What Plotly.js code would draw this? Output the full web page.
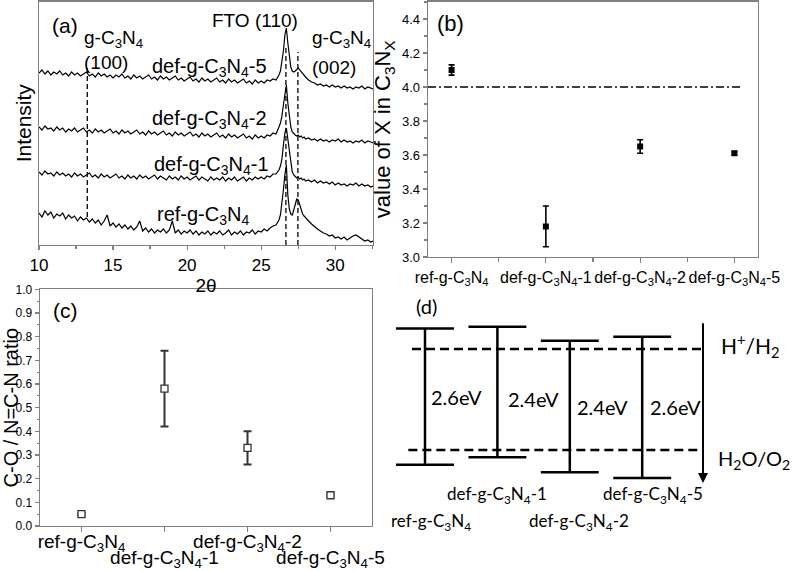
<!DOCTYPE html>
<html><head><meta charset="utf-8">
<script src="https://cdn.plot.ly/plotly-3.0.1.min.js"></script>
<style>html,body{margin:0;padding:0;background:#fff;} #chart{width:794px;height:571px;}</style>
</head><body><div id="chart"></div>
<script>
// ---------- DATA ----------
const samples = ['ref-g-C<sub>3</sub>N<sub>4</sub>', 'def-g-C<sub>3</sub>N<sub>4</sub>-1', 'def-g-C<sub>3</sub>N<sub>4</sub>-2', 'def-g-C<sub>3</sub>N<sub>4</sub>-5'];
const samplePos = [1, 2, 3, 4];

// (a) XRD patterns (intensity, arbitrary offset units)
const twoTheta = [
10.0,10.2,10.4,10.6,10.8,11.0,11.2,11.4,11.6,11.8,
12.0,12.2,12.4,12.6,12.8,13.0,13.2,13.4,13.6,13.8,
14.0,14.2,14.4,14.6,14.8,15.0,15.2,15.4,15.6,15.8,
16.0,16.2,16.4,16.6,16.8,17.0,17.2,17.4,17.6,17.8,
18.0,18.2,18.4,18.6,18.8,19.0,19.2,19.4,19.6,19.8,
20.0,20.2,20.4,20.6,20.8,21.0,21.2,21.4,21.6,21.8,
22.0,22.2,22.4,22.6,22.8,23.0,23.2,23.4,23.6,23.8,
24.0,24.2,24.4,24.6,24.8,25.0,25.2,25.4,25.6,25.8,
26.0,26.1,26.2,26.3,26.4,26.5,26.6,26.7,26.8,26.9,27.0,27.1,27.2,27.3,27.4,27.5,27.6,27.7,27.8,27.9,28.0,
28.2,28.4,28.6,28.8,29.0,29.2,29.4,29.6,29.8,30.0,30.2,30.4,30.6,30.8,31.0,31.2,31.4,31.6,31.8,32.0,32.2,32.4,32.55];
const xrdRef = [
32,28,34,30,33,27,31,29,32,26,
30,27,29,24,28,25,27,23,26,22,
25,20,24,30,19,22,18,21,17,20,
16,19,15,18,24,14,17,13,16,12,
15,13,16,12,15,24,12,15,11,14,
12,15,11,14,10,13,11,14,10,13,
11,14,10,12,15,10,13,11,14,10,
13,12,15,11,14,13,16,14,17,19,
20,22,25,30,40,55,70,80,50,36,31,30,35,41,46,45,40,35,31,29,27,
24,21,18,16,14,12,11,9,10,7,8,6,8,5,7,9,10,8,6,4,5,3,4];
const xrdDef1 = [
73,70,74,71,72,69,73,70,72,69,
71,68,72,69,71,68,70,72,68,70,
67,71,68,70,67,69,71,67,69,66,
70,67,69,66,70,67,69,66,68,70,
66,69,67,65,69,66,68,65,69,66,
68,65,67,69,65,68,66,64,68,65,
67,65,68,64,67,65,68,64,66,68,
64,67,65,68,66,68,66,69,68,71,
71,73,75,79,86,100,112,117,106,92,80,73,70,68,67,68,66,67,65,66,64,
65,63,65,62,64,62,63,61,63,60,62,60,61,59,61,60,62,59,61,59,60,58,59];
const xrdDef2 = [
118,115,119,116,117,114,118,115,117,113,
116,114,117,113,115,117,113,115,112,116,
113,115,112,114,116,112,114,111,115,112,
114,111,113,115,111,113,110,114,111,113,
110,112,114,110,112,109,113,110,112,109,
111,113,109,111,108,112,109,111,108,110,
112,108,110,107,111,108,110,107,109,111,
107,109,106,110,107,109,107,110,109,112,
111,114,118,122,129,140,153,160,142,127,118,113,111,110,109,110,108,109,107,108,106,
107,105,106,104,106,104,105,103,105,104,106,103,105,103,104,102,104,103,105,102,104,103,102];
const xrdDef5 = [
172,175,171,174,170,173,171,174,170,172,
169,173,170,172,169,171,173,169,171,168,
172,169,171,168,170,167,170,168,171,167,
169,166,170,167,169,166,168,170,166,168,
165,169,166,168,165,167,169,165,167,164,
166,168,164,166,163,167,164,166,163,165,
167,163,165,162,166,163,165,162,164,166,
162,164,161,165,162,164,162,165,164,166,
165,167,170,174,183,194,210,217,202,188,178,174,173,174,176,177,175,173,171,170,168,
165,163,162,160,161,159,160,158,160,158,159,157,159,157,158,156,158,157,159,156,158,157,156];
const peakPos = [13.26, 26.67, 27.48];     // g-C3N4 (100), FTO (110), g-C3N4 (002)
const peakLineTop = [177, 200, 193];
const peakLineBottom = [28, 0, 0];

// (b) value of X in C3NX
const xValue = [4.10, 3.18, 3.65, 3.61];
const xValueErr = [0.03, 0.12, 0.04, 0.01];
const stoichX = 4.0;

// (c) C-O / N=C-N ratio
const coRatio = [0.05, 0.58, 0.33, 0.13];
const coRatioErr = [0.006, 0.16, 0.07, 0.006];

// (d) band positions (schematic, V)
const cbLevel = [-0.25, -0.27, -0.10, -0.15];
const vbLevel = [1.41, 1.32, 1.50, 1.57];
const gapEV = [2.6, 2.4, 2.4, 2.6];
const redoxLevel = [0, 1.23];
const redoxLabel = ['H<sup>+</sup>/H<sub>2</sub>', 'H<sub>2</sub>O/O<sub>2</sub>'];

// ---------- STYLE / LAYOUT ----------
const W = 794, H = 571;
const AR = 'Liberation Sans, Arimo, Arial, sans-serif';
const CAL = 'Lato, Open Sans, sans-serif';
const GREY = '#808080';
const px = v => v / W, py = v => 1 - v / H;

const traces = [];
// (a)
[xrdRef, xrdDef1, xrdDef2, xrdDef5].forEach(yy => {
  traces.push({x: twoTheta, y: yy, xaxis: 'x', yaxis: 'y', type: 'scatter', mode: 'lines',
    line: {color: '#000', width: 1.2}, hoverinfo: 'skip'});
});
peakPos.forEach((p, i) => {
  traces.push({x: [p, p], y: [peakLineBottom[i], peakLineTop[i]], xaxis: 'x', yaxis: 'y', type: 'scatter', mode: 'lines',
    line: {color: '#000', width: 1.3, dash: '5px,3px'}, hoverinfo: 'skip'});
});
// (b)
traces.push({x: [0.75, 4.09], y: [stoichX, stoichX], xaxis: 'x2', yaxis: 'y2', type: 'scatter', mode: 'lines',
  line: {color: '#000', width: 1.5, dash: '8px,3px,2px,3px'}});
traces.push({x: samplePos, y: xValue, xaxis: 'x2', yaxis: 'y2', type: 'scatter', mode: 'markers',
  marker: {symbol: 'square', size: 6, color: '#000'},
  error_y: {type: 'data', array: xValueErr, visible: true, color: '#000', thickness: 1.6, width: 3}});
// (c)
traces.push({x: samplePos, y: coRatio, xaxis: 'x3', yaxis: 'y3', type: 'scatter', mode: 'markers',
  marker: {symbol: 'square', size: 7, color: '#fff', line: {color: '#333', width: 1.3}},
  error_y: {type: 'data', array: coRatioErr, visible: true, color: '#333', thickness: 2, width: 4}});
// (d)
const bx = [], by = [];
samplePos.forEach((s, i) => {
  bx.push(s - 0.4, s + 0.4, null, s - 0.4, s + 0.4, null, s, s, null);
  by.push(cbLevel[i], cbLevel[i], null, vbLevel[i], vbLevel[i], null, cbLevel[i], vbLevel[i], null);
});
traces.push({x: bx, y: by, xaxis: 'x5', yaxis: 'y5', type: 'scatter', mode: 'lines',
  line: {color: '#000', width: 2.5}, connectgaps: false});
const redoxStart = [0.82, 0.77], redoxEnd = 4.84;
redoxLevel.forEach((lv, i) => {
  traces.push({x: [redoxStart[i], redoxEnd], y: [lv, lv], xaxis: 'x5', yaxis: 'y5', type: 'scatter', mode: 'lines',
    line: {color: '#000', width: 2.3, dash: '9px,5px'}});
});
// trace to activate the overlaying label axis of (c)
traces.push({x: [2, 4], y: [null, null], xaxis: 'x4', yaxis: 'y3', type: 'scatter', mode: 'markers', hoverinfo: 'skip'});

const annotations = [];
function ann(text, x, y, o) {
  annotations.push(Object.assign({text, x: px(x), y: py(y), xref: 'paper', yref: 'paper', showarrow: false,
    xanchor: 'left', yanchor: 'middle', font: {family: AR, size: 19, color: '#000'}}, o || {}));
}
// (a) labels
ann('(a)', 65, 25, {xanchor: 'center', font: {family: AR, size: 21, color: '#000'}});
ann('g-C<sub>3</sub>N<sub>4</sub>', 82, 39);
ann('(100)', 82, 62);
ann('FTO (110)', 255, 20, {xanchor: 'center'});
ann('g-C<sub>3</sub>N<sub>4</sub>', 310, 39);
ann('(002)', 310, 67);
ann(samples[3], 150, 67, {font: {family: AR, size: 20, color: '#000'}});
ann(samples[2], 150, 120, {font: {family: AR, size: 20, color: '#000'}});
ann(samples[1], 152, 165, {font: {family: AR, size: 20, color: '#000'}});
ann(samples[0], 155, 215, {font: {family: AR, size: 20, color: '#000'}});
// (b),(c)
ann('(b)', 450, 24, {xanchor: 'center', font: {family: AR, size: 22, color: '#000'}});
ann('(c)', 65, 310, {xanchor: 'center', font: {family: AR, size: 21, color: '#000'}});
// (d)
const CF = s => ({family: CAL, size: s, color: '#000'});
ann('(d)', 426, 306, {xanchor: 'center', font: CF(20)});
const gapPos = [[429, 397], [506, 399], [575, 407], [648, 407]];
gapEV.forEach((g, i) => ann(g.toFixed(1) + 'eV', gapPos[i][0], gapPos[i][1], {font: CF(20)}));
ann(redoxLabel[0], 719, 345, {font: CF(21)});
ann(redoxLabel[1], 716, 459, {font: CF(20)});
const dLab = [[431, 522], [497, 495], [579, 522], [653, 495]];
samples.forEach((s, i) => ann(s, dLab[i][0], dLab[i][1], {xanchor: 'center', font: CF(17)}));
// arrow
annotations.push({xref: 'x5', yref: 'y5', axref: 'x5', ayref: 'y5', x: redoxEnd, y: 1.632, ax: redoxEnd, ay: -0.333,
  text: '', showarrow: true, arrowhead: 2, arrowsize: 1, arrowwidth: 2, arrowcolor: '#000'});

const tf = s => ({family: AR, size: s, color: '#000'});
const frame = {showline: true, mirror: true, linecolor: GREY, linewidth: 1.3, showgrid: false, zeroline: false,
  ticks: 'outside', tickcolor: GREY, tickwidth: 1.2, automargin: false};

const layout = {
  width: W, height: H, margin: {l: 0, r: 0, t: 0, b: 0}, paper_bgcolor: '#fff', plot_bgcolor: '#fff',
  showlegend: false, hovermode: false,
  xaxis: Object.assign({}, frame, {domain: [px(39), px(373)], range: [10, 32.55], anchor: 'y',
    tick0: 10, dtick: 5, ticklen: 4, tickfont: tf(17),
    minor: {dtick: 2.5, tick0: 10, ticks: 'outside', ticklen: 3, tickcolor: GREY},
    title: {text: '2θ', font: tf(19), standoff: 0}}),
  yaxis: Object.assign({}, frame, {domain: [py(245), py(1.5)], range: [0, 243.5], anchor: 'x',
    ticks: '', showticklabels: false, title: {text: 'Intensity', font: tf(21), standoff: 0}}),
  xaxis2: Object.assign({}, frame, {domain: [px(428), px(758)], range: [0.75, 4.25], anchor: 'y2',
    tickmode: 'array', tickvals: samplePos, ticktext: samples, ticklen: 5, tickfont: tf(16),
    minor: {tickmode: 'array', tickvals: [1.5, 2.5, 3.5], ticks: 'outside', ticklen: 4, tickcolor: GREY}}),
  yaxis2: Object.assign({}, frame, {domain: [py(257), py(1.5)], range: [3.0, 4.503], anchor: 'x2',
    tick0: 3.0, dtick: 0.2, tickformat: '.1f', ticklen: 4, tickfont: tf(13),
    minor: {dtick: 0.1, ticks: 'outside', ticklen: 2.5, tickcolor: GREY},
    title: {text: 'value of X in C<sub>3</sub>N<sub>X</sub>', font: tf(22), standoff: 5}}),
  xaxis3: Object.assign({}, frame, {domain: [px(40), px(372)], range: [0.5, 4.5], anchor: 'y3',
    tickmode: 'array', tickvals: [1, 3], ticktext: [samples[0], samples[2]], ticklen: 5, tickfont: tf(19),
    ticklabelstandoff: -7,
    minor: {tickmode: 'array', tickvals: [2, 4], ticks: 'outside', ticklen: 5, tickcolor: GREY}}),
  xaxis4: {overlaying: 'x3', anchor: 'y3', side: 'bottom', range: [0.5, 4.5], showline: false, showgrid: false, zeroline: false,
    tickmode: 'array', tickvals: [2, 4], ticktext: [samples[1], samples[3]], ticks: 'outside', ticklen: 5,
    tickcolor: 'rgba(0,0,0,0)', ticklabelstandoff: 9, tickfont: tf(19), automargin: false},
  yaxis3: Object.assign({}, frame, {domain: [py(526), py(289.3)], range: [0, 1.0], anchor: 'x3',
    tick0: 0, dtick: 0.1, tickformat: '.1f', ticklen: 4, tickfont: tf(12),
    minor: {dtick: 0.05, ticks: 'outside', ticklen: 2, tickcolor: GREY},
    title: {text: 'C-O / N=C-N ratio', font: tf(20), standoff: 0}}),
  xaxis5: {domain: [px(380), 1], range: [0.3785, 6.0967], visible: false, anchor: 'y5'},
  yaxis5: {domain: [0, py(290)], range: [2.704, -0.7186], visible: false, anchor: 'x5'},
  annotations
};

Plotly.newPlot('chart', traces, layout, {staticPlot: true, displayModeBar: false});
</script></body></html>
